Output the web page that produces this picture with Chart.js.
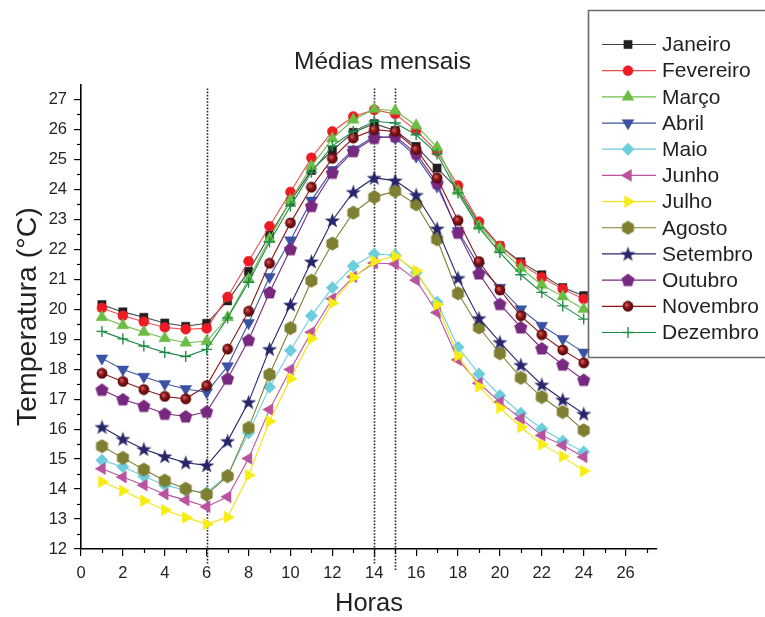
<!DOCTYPE html>
<html><head><meta charset="utf-8">
<script src="https://cdn.jsdelivr.net/npm/chart.js@4.4.1/dist/chart.umd.min.js"></script>
<style>html,body{margin:0;padding:0;background:#fff}#wrap{width:765px;height:617px;position:relative;overflow:hidden}</style>
</head><body><div id="wrap"><canvas id="c" width="765" height="617"></canvas></div>
<script>
// ---------- data ----------
const hours = [1,2,3,4,5,6,7,8,9,10,11,12,13,14,15,16,17,18,19,20,21,22,23,24];
const monthNames = ['Janeiro','Fevereiro','Março','Abril','Maio','Junho','Julho','Agosto','Setembro','Outubro','Novembro','Dezembro'];
const janeiro   = [20.15,19.91,19.73,19.54,19.43,19.53,20.28,21.26,22.47,23.60,24.63,25.30,25.90,26.19,25.96,25.43,24.71,24.00,22.85,22.11,21.58,21.15,20.72,20.45];
const fevereiro = [20.04,19.78,19.58,19.39,19.33,19.36,20.41,21.60,22.77,23.91,25.05,25.93,26.43,26.65,26.51,25.96,25.27,24.13,22.92,22.11,21.52,21.06,20.67,20.34];
const marco     = [19.73,19.46,19.24,19.03,18.88,18.93,19.73,21.00,22.35,23.63,24.77,25.69,26.32,26.68,26.62,26.13,25.40,23.94,22.77,22.03,21.37,20.81,20.42,20.00];
const abril     = [18.36,17.99,17.75,17.51,17.34,17.23,18.10,19.54,21.08,22.30,23.63,24.65,25.33,25.77,25.71,25.10,24.10,22.61,21.44,20.72,20.00,19.45,19.01,18.56];
const maio      = [14.96,14.74,14.43,14.13,13.96,13.89,14.46,15.87,17.40,18.62,19.78,20.72,21.44,21.84,21.80,21.22,20.23,18.73,17.84,17.12,16.53,16.01,15.60,15.24];
const junho     = [14.68,14.40,14.13,13.83,13.63,13.41,13.74,15.02,16.65,17.99,19.23,20.35,21.08,21.54,21.51,20.97,19.89,18.31,17.53,16.90,16.35,15.79,15.46,15.07];
const julho     = [14.24,13.94,13.61,13.30,13.05,12.83,13.06,14.46,16.26,17.68,19.02,20.20,21.06,21.60,21.76,21.28,20.15,18.45,17.42,16.71,16.07,15.49,15.09,14.60];
const agosto    = [15.43,15.04,14.65,14.28,14.01,13.82,14.43,16.04,17.82,19.37,20.95,22.19,23.22,23.74,23.94,23.50,22.33,20.53,19.39,18.53,17.71,17.07,16.57,15.96];
const setembro  = [16.07,15.67,15.33,15.09,14.88,14.79,15.60,16.90,18.67,20.15,21.59,22.96,23.91,24.38,24.29,23.81,22.69,21.04,19.70,18.90,18.14,17.48,16.98,16.51];
const outubro   = [17.31,16.99,16.77,16.51,16.42,16.58,17.68,18.97,20.56,22.00,23.44,24.55,25.27,25.71,25.77,25.20,24.21,22.55,21.19,20.17,19.39,18.69,18.15,17.64];
const novembro  = [17.86,17.59,17.32,17.09,17.01,17.45,18.67,19.93,21.53,22.88,24.07,25.03,25.71,25.99,25.93,25.33,24.38,22.96,21.59,20.64,19.78,19.15,18.64,18.21];
const dezembro  = [19.26,19.01,18.77,18.56,18.42,18.66,19.71,20.90,22.24,23.44,24.57,25.45,25.93,26.27,26.21,25.82,25.18,23.88,22.72,21.89,21.15,20.56,20.11,19.67];
const seriesValues = [janeiro,fevereiro,marco,abril,maio,junho,julho,agosto,setembro,outubro,novembro,dezembro];
const xTickValues = [0,2,4,6,8,10,12,14,16,18,20,22,24,26];
const yTickValues = [12,13,14,15,16,17,18,19,20,21,22,23,24,25,26,27];
const referenceHours = [6,14,15];

// ---------- styles ----------
const FONT = '"Liberation Sans", Arial, Helvetica, sans-serif';
const markerColors = ['#231f20','#ed1c24','#6cbd45','#3a53a4','#6ccedd','#b9529f','#f7ec13','#7f7f31','#27266b','#77287f','#8b1519','#1e8c48'];
const lineColors   = ['#444444','#ef4a50','#6cbd45','#3a53a4','#6ccedd','#b9529f','#f2e40f','#7f7f31','#27266b','#77287f','#8b1519','#1e8c48'];

function shapeCanvas(size, draw){ const c=document.createElement('canvas'); c.width=size; c.height=size; const g=c.getContext('2d'); draw(g,size/2); return c; }
function poly(g,cx,cy,n,r,a0){ g.beginPath(); for(let k=0;k<n;k++){const a=a0+k*2*Math.PI/n; const px=cx+r*Math.cos(a), py=cy+r*Math.sin(a); k?g.lineTo(px,py):g.moveTo(px,py);} g.closePath(); }
const hexImg = shapeCanvas(15,(g,c)=>{g.fillStyle=markerColors[7]; poly(g,c,c,6,6.9,-Math.PI/2); g.fill();});
const pentImg = shapeCanvas(15,(g,c)=>{g.fillStyle=markerColors[9]; poly(g,c,c+0.5,5,6.9,-Math.PI/2); g.fill();});
const starImg = shapeCanvas(17,(g,c)=>{g.fillStyle=markerColors[8]; g.beginPath(); for(let k=0;k<10;k++){const r=k%2?3.2:8; const a=-Math.PI/2+k*Math.PI/5; const px=c+r*Math.cos(a), py=c+0.6+r*Math.sin(a); k?g.lineTo(px,py):g.moveTo(px,py);} g.closePath(); g.fill();});
const sphereImg = shapeCanvas(12,(g,c)=>{const gr=g.createRadialGradient(c-1.6,c-1.6,0.5,c,c,5.6); gr.addColorStop(0,'#d0605c'); gr.addColorStop(0.45,'#8b1519'); gr.addColorStop(1,'#4a0507'); g.fillStyle=gr; g.beginPath(); g.arc(c,c,5.4,0,Math.PI*2); g.fill();});
const pointStyles = ['rect','circle','triangle','triangle','rectRot','triangle','triangle',hexImg,starImg,pentImg,sphereImg,'cross'];
const pointRadii  = [5.8,5,6.8,6.8,6.2,6.8,6.8,7,8,7,6,5.5];
const pointRotations = [0,0,0,180,0,270,90,0,0,0,0,0];

const datasets = seriesValues.map((vals,i)=>({
  label: monthNames[i],
  data: hours.map((h,j)=>({x:h,y:vals[j]})),
  borderColor: lineColors[i],
  backgroundColor: markerColors[i],
  borderWidth: 1.1,
  pointStyle: pointStyles[i],
  pointRadius: pointRadii[i],
  pointRotation: pointRotations[i],
  pointBackgroundColor: markerColors[i],
  pointBorderColor: markerColors[i],
  pointBorderWidth: i===11?1.4:0.5,
  tension: 0,
  order: 11-i
}));

const decorPlugin = {
  id:'decor',
  beforeDatasetsDraw(chart){
    const {ctx, chartArea, scales:{x}} = chart;
    ctx.save();
    ctx.strokeStyle='#222'; ctx.lineWidth=1.6; ctx.setLineDash([1.6,1.6]);
    referenceHours.forEach((h,i)=>{
      const px = Math.round(x.getPixelForValue(h))+0.5;
      ctx.beginPath(); ctx.moveTo(px, chartArea.top+4); ctx.lineTo(px, chartArea.bottom + (i===2?21:15)); ctx.stroke();
    });
    ctx.restore();
  },
  afterDraw(chart){
    const {ctx, chartArea, scales:{x,y}} = chart;
    ctx.save();
    // minor ticks
    ctx.strokeStyle='#000'; ctx.lineWidth=1.2;
    for(let v=x.min+1; v<x.max; v+=2){ const px=Math.round(x.getPixelForValue(v))+0.5; ctx.beginPath(); ctx.moveTo(px,chartArea.bottom); ctx.lineTo(px,chartArea.bottom+4); ctx.stroke(); }
    for(let v=y.min+0.5; v<y.max; v+=1){ const py=Math.round(y.getPixelForValue(v))+0.5; ctx.beginPath(); ctx.moveTo(chartArea.left,py); ctx.lineTo(chartArea.left-4,py); ctx.stroke(); }
    // legend box (right side runs off the canvas)
    ctx.strokeStyle='#6a6a6a'; ctx.lineWidth=1.6;
    ctx.beginPath(); ctx.moveTo(800,10.5); ctx.lineTo(588.5,10.5); ctx.lineTo(588.5,357.5); ctx.lineTo(800,357.5); ctx.stroke();
    chart.data.datasets.forEach((ds,i)=>{
      const cy = 44.5 + i*26.18;
      ctx.strokeStyle=lineColors[i]; ctx.lineWidth=1.2; ctx.setLineDash([]);
      ctx.beginPath(); ctx.moveTo(602,cy); ctx.lineTo(656,cy); ctx.stroke();
      ctx.fillStyle=markerColors[i]; ctx.strokeStyle=markerColors[i]; ctx.lineWidth=i===11?1.4:0.5;
      Chart.helpers.drawPoint(ctx,{pointStyle:pointStyles[i], radius:pointRadii[i], rotation:pointRotations[i], borderWidth:ctx.lineWidth},628,cy);
      ctx.fillStyle='#231f20'; ctx.font='21px '+FONT; ctx.textBaseline='middle'; ctx.textAlign='left';
      ctx.fillText(ds.label,662,cy+1);
    });
    ctx.restore();
  }
};

new Chart(document.getElementById('c'),{
  type:'line',
  data:{datasets},
  plugins:[decorPlugin],
  options:{
    responsive:false, animation:false, devicePixelRatio:1,
    layout:{padding:{left:0,right:0,top:0,bottom:0}},
    plugins:{
      legend:{display:false}, tooltip:{enabled:false},
      title:{display:true,text:'Médias mensais',color:'#231f20',font:{family:FONT,size:24.5,weight:'normal',lineHeight:1.2},padding:{top:48,bottom:7}}
    },
    scales:{
      x:{type:'linear',min:0,max:27.5,
        afterBuildTicks(s){ s.ticks = xTickValues.map(v=>({value:v})); },
        afterFit(s){ s.height = 68; },
        grid:{drawOnChartArea:false,drawTicks:true,tickLength:7,color:'#000',lineWidth:1.2},
        border:{display:true,color:'#000',width:1.6},
        ticks:{color:'#231f20',font:{family:FONT,size:16.5},padding:8,maxRotation:0,autoSkip:false},
        title:{display:true,text:'Horas',color:'#231f20',font:{family:FONT,size:25.5,lineHeight:1},padding:{top:0,bottom:0}}
      },
      y:{type:'linear',position:'left',min:12,max:27.5,
        afterBuildTicks(s){ s.ticks = yTickValues.map(v=>({value:v})); },
        afterFit(s){ s.width = 81; },
        grid:{drawOnChartArea:false,drawTicks:true,tickLength:7,color:'#000',lineWidth:1.2},
        border:{display:true,color:'#000',width:1.6},
        ticks:{color:'#231f20',font:{family:FONT,size:16.5},padding:7,autoSkip:false},
        title:{display:true,text:'Temperatura (°C)',color:'#231f20',font:{family:FONT,size:28.5,lineHeight:1.05},padding:{top:13,bottom:0}}
      },
      yR:{type:'linear',position:'right',min:12,max:27.5,display:true,
        afterFit(s){ s.width = 108; },
        grid:{display:false,drawTicks:false}, border:{display:false}, ticks:{display:false}
      }
    }
  }
});
</script></body></html>
